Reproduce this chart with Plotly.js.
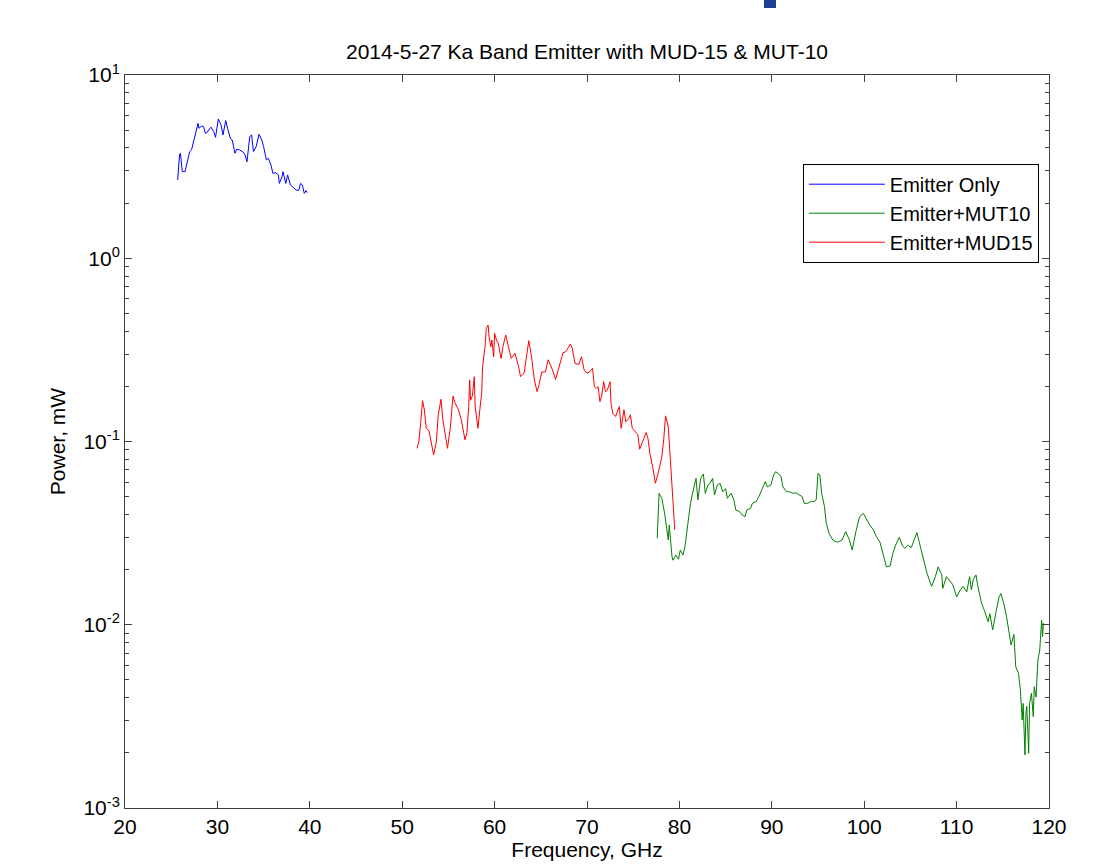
<!DOCTYPE html>
<html>
<head>
<meta charset="utf-8">
<script src="https://cdn.plot.ly/plotly-3.0.1.min.js"></script>
<style>html,body{margin:0;padding:0;background:#fff;}#chart{width:1116px;height:864px;}</style>
</head>
<body>
<div id="chart"></div>
<script>
// Emitter Only (blue)
const emitterX = [25.7,25.9,26.0,26.2,26.5,26.7,27.0,27.2,27.6,27.9,28.0,28.3,28.5,28.7,28.8,29.1,29.3,29.6,29.8,30.1,30.4,30.6,30.9,31.1,31.4,31.6,31.9,32.1,32.4,32.8,33.0,33.2,33.5,33.7,33.9,34.2,34.5,34.8,35.0,35.3,35.5,35.8,36.0,36.3,36.6,36.7,37.0,37.1,37.4,37.6,37.9,38.2,38.5,38.8,39.0,39.2,39.4,39.6,39.7];
const emitterY = [2.67,3.66,3.74,2.97,2.97,3.30,3.82,3.90,4.71,5.44,5.12,5.27,5.22,4.81,4.81,5.01,5.19,4.91,4.57,5.75,5.33,4.71,5.64,5.12,4.51,4.42,3.74,3.94,3.90,3.79,3.66,3.36,4.60,4.71,3.82,4.07,4.75,4.42,4.07,3.44,3.51,3.23,2.91,2.93,2.85,2.56,2.79,2.97,2.56,2.85,2.51,2.44,2.36,2.34,2.56,2.51,2.26,2.34,2.28];

// Emitter+MUT10 (green)
const mut10X = [77.6,77.8,78.1,78.4,78.8,78.9,79.2,79.3,79.6,79.9,80.1,80.4,80.6,81.0,81.2,81.5,81.8,82.0,82.3,82.6,82.8,83.1,83.3,83.6,83.8,84.1,84.4,84.7,85.0,85.2,85.6,85.9,86.1,86.5,86.8,87.1,87.3,87.7,87.9,88.3,88.6,88.9,89.3,89.5,89.9,90.2,90.4,90.7,91.0,91.2,91.6,91.9,92.3,92.6,93.0,93.3,93.5,93.9,94.2,94.6,94.8,95.0,95.2,95.4,95.7,95.9,96.2,96.6,97.0,97.2,97.6,98.0,98.4,98.7,99.1,99.5,99.9,100.3,100.6,101.0,101.3,101.7,102.1,102.4,102.8,103.1,103.4,103.8,104.1,104.4,104.7,105.1,105.4,105.7,105.9,106.2,106.4,106.8,107.3,107.7,108.0,108.4,108.5,108.9,109.3,109.6,110.0,110.4,110.7,111.1,111.4,111.6,111.8,112.1,112.3,112.7,113.0,113.4,113.6,113.9,114.3,114.6,114.8,115.1,115.4,115.7,115.9,116.2,116.4,116.7,116.9,117.1,117.2,117.4,117.5,117.6,117.8,117.9,118.1,118.3,118.4,118.6,118.8,119.0,119.2,119.3,119.4];
const mut10Y = [0.0296,0.0521,0.0490,0.0405,0.0290,0.0350,0.0235,0.0225,0.0240,0.0228,0.0256,0.0240,0.0267,0.0373,0.0460,0.0543,0.0629,0.0480,0.0629,0.0665,0.0521,0.0579,0.0590,0.0629,0.0511,0.0579,0.0590,0.0532,0.0553,0.0490,0.0521,0.0480,0.0423,0.0415,0.0397,0.0389,0.0423,0.0431,0.0460,0.0470,0.0500,0.0543,0.0604,0.0566,0.0579,0.0656,0.0684,0.0670,0.0643,0.0566,0.0532,0.0532,0.0521,0.0525,0.0511,0.0500,0.0460,0.0460,0.0470,0.0470,0.0480,0.0671,0.0656,0.0521,0.0441,0.0357,0.0315,0.0290,0.0283,0.0283,0.0290,0.0322,0.0290,0.0256,0.0322,0.0389,0.0405,0.0373,0.0350,0.0329,0.0303,0.0283,0.0235,0.0207,0.0209,0.0245,0.0272,0.0300,0.0272,0.0261,0.0272,0.0264,0.0290,0.0318,0.0290,0.0251,0.0225,0.0191,0.0162,0.0183,0.0207,0.0187,0.0158,0.0183,0.0173,0.0165,0.0142,0.0155,0.0162,0.0151,0.0183,0.0155,0.0176,0.0187,0.0162,0.0131,0.0120,0.0104,0.0115,0.00936,0.0120,0.0142,0.0148,0.0131,0.0111,0.00916,0.00775,0.00886,0.00590,0.00543,0.00441,0.00302,0.00372,0.00195,0.00329,0.00358,0.00199,0.00372,0.00423,0.00315,0.00459,0.00403,0.00643,0.00728,0.0106,0.00860,0.0102];

// Emitter+MUD15 (red)
const mud15X = [51.6,51.8,52.0,52.2,52.4,52.6,52.9,53.1,53.4,53.7,53.9,54.2,54.4,54.7,54.9,55.2,55.5,55.7,56.1,56.4,56.8,57.0,57.2,57.3,57.4,57.6,57.8,57.9,58.1,58.2,58.4,58.6,58.7,58.9,59.0,59.1,59.3,59.4,59.6,59.7,59.9,60.0,60.2,60.4,60.7,60.9,61.2,61.5,61.8,62.2,62.6,62.8,63.2,63.5,63.7,64.0,64.3,64.6,64.8,65.1,65.5,65.8,66.2,66.6,67.0,67.4,67.7,68.2,68.4,68.7,69.1,69.4,69.7,70.0,70.3,70.6,70.8,71.0,71.2,71.4,71.6,71.8,72.0,72.2,72.5,72.6,72.8,73.1,73.5,73.7,74.0,74.2,74.5,74.7,74.9,75.3,75.5,75.7,76.1,76.4,76.6,76.8,77.1,77.4,77.7,78.1,78.3,78.5,78.8,79.0,79.2,79.5];
const mud15Y = [0.0918,0.0998,0.1256,0.167,0.1486,0.118,0.1146,0.102,0.0844,0.0998,0.1396,0.170,0.131,0.106,0.0918,0.118,0.177,0.163,0.1486,0.131,0.102,0.112,0.155,0.217,0.168,0.178,0.226,0.155,0.126,0.118,0.149,0.183,0.256,0.303,0.343,0.414,0.432,0.373,0.329,0.358,0.290,0.389,0.358,0.343,0.284,0.329,0.381,0.329,0.284,0.303,0.256,0.226,0.236,0.303,0.355,0.290,0.217,0.187,0.203,0.239,0.240,0.279,0.251,0.218,0.256,0.305,0.309,0.340,0.323,0.267,0.263,0.290,0.245,0.236,0.240,0.251,0.199,0.195,0.199,0.165,0.178,0.212,0.187,0.191,0.212,0.161,0.142,0.137,0.155,0.118,0.149,0.128,0.133,0.140,0.118,0.112,0.109,0.0908,0.104,0.112,0.104,0.0863,0.0730,0.0592,0.0670,0.0826,0.102,0.138,0.120,0.0793,0.0604,0.0329];

const xTickVals = [20,30,40,50,60,70,80,90,100,110,120];
const yTickVals = [0.001,0.01,0.1,1,10];
const yTickText = ['10<sup>-3</sup>','10<sup>-2</sup>','10<sup>-1</sup>','10<sup>0</sup>','10<sup>1</sup>'];

const minorVals = [];
[0.001,0.01,0.1,1].forEach(d => { for (let k = 2; k <= 9; k++) minorVals.push(d * k); });

const font = {family: 'Liberation Sans, Arial, sans-serif', color: '#000'};
const axisColor = '#404040';

const traces = [
  {x: emitterX, y: emitterY, name: 'Emitter Only', mode: 'lines', line: {color: '#0000ff', width: 1}},
  {x: mut10X, y: mut10Y, name: 'Emitter+MUT10', mode: 'lines', line: {color: '#008000', width: 1}},
  {x: mud15X, y: mud15Y, name: 'Emitter+MUD15', mode: 'lines', line: {color: '#ff0000', width: 1}}
];

const layout = {
  width: 1116, height: 864,
  paper_bgcolor: '#fff', plot_bgcolor: '#fff',
  margin: {l: 125, r: 67, t: 75, b: 56, pad: 0},
  font: Object.assign({size: 20}, font),
  title: {text: '2014-5-27 Ka Band Emitter with MUD-15 & MUT-10', font: Object.assign({size: 21}, font), x: 0.5260, xanchor: 'center', y: 0.94, yanchor: 'middle'},
  showlegend: true,
  legend: {x: 0.989, xanchor: 'right', y: 0.879, yanchor: 'top', bgcolor: '#fff', bordercolor: '#000', borderwidth: 1, font: Object.assign({size: 20}, font), tracegroupgap: 0, itemwidth: 76},
  xaxis: {
    range: [20, 120], tickvals: xTickVals, ticks: 'inside', ticklen: 7, tickcolor: axisColor,
    showline: true, linecolor: axisColor, linewidth: 1, mirror: 'ticks', showgrid: false, zeroline: false,
    tickfont: Object.assign({size: 21}, font),
    title: {text: 'Frequency, GHz', font: Object.assign({size: 21}, font), standoff: 4}
  },
  yaxis: {
    type: 'log', range: [-3, 1], tickvals: yTickVals, ticktext: yTickText,
    ticks: 'inside', ticklen: 7, tickcolor: axisColor,
    showline: true, linecolor: axisColor, linewidth: 1, mirror: 'allticks', showgrid: false, zeroline: false,
    tickfont: Object.assign({size: 21}, font),
    minor: {tickvals: minorVals, ticks: 'inside', ticklen: 4, tickcolor: axisColor, showgrid: false},
    title: {text: 'Power, mW', font: Object.assign({size: 21}, font), standoff: 12}
  },
  shapes: [
    {type: 'rect', xref: 'paper', yref: 'paper', x0: (764 - 125) / 924, x1: (776 - 125) / 924, y0: (808 - 0) / 733, y1: (808 - 8) / 733, fillcolor: '#1c3f94', line: {width: 0}}
  ]
};

Plotly.newPlot('chart', traces, layout, {staticPlot: true, displayModeBar: false});
</script>
</body>
</html>
